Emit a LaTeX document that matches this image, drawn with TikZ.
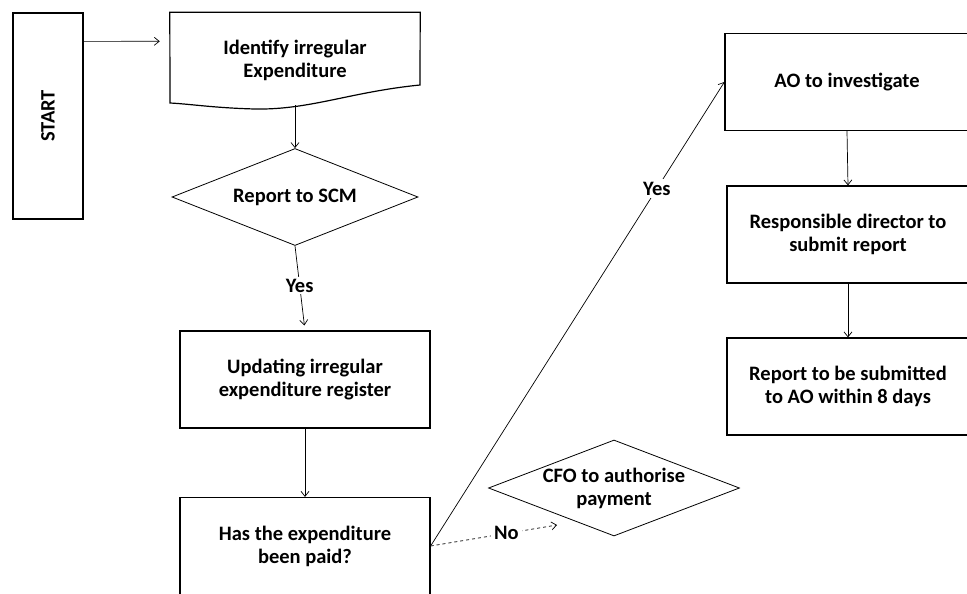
\documentclass[tikz,border=0pt]{standalone}
\usepackage{fontspec}
\setmainfont{Carlito}
\usetikzlibrary{shapes.geometric,arrows.meta}
\begin{document}
\begin{tikzpicture}[x=1pt,y=-1pt,every node/.style={font=\fontsize{20.5}{23}\selectfont\bfseries,align=center},
  stepbox/.style={draw,line width=1.2pt,minimum width=250pt,minimum height=97pt,inner sep=0pt},
  choice/.style={draw,shape=diamond,line width=0.8pt,inner sep=0pt},
  link/.style={line width=0.7pt,-{Straight Barb[length=5pt,width=8pt]}}]
\useasboundingbox (0,0) rectangle (967,594);
\clip (0,0) rectangle (967,594);
\node[draw,line width=1.2pt,minimum width=70pt,minimum height=206pt,inner sep=0pt] (start) at (48,116) {\rotatebox{90}{START}};
\node[minimum width=250pt,minimum height=95pt,inner sep=0pt] (ident) at (295,60) {Identify irregular\\Expenditure};
\draw[line width=1.2pt] (ident.north west) -- (ident.north east) -- (420,85) .. controls (350,92) and (310,110) .. (255,109) .. controls (215,108) and (190,104) .. (170,103) -- cycle;
\coordinate (identb) at (295,105);
\node[choice,minimum width=246pt,minimum height=97pt] (scm) at (295,197) {};
\node (scmt) at (scm) {Report to SCM};
\node[stepbox] (upd) at (305,379.5) {Updating irregular\\expenditure register};
\node[stepbox] (paid) at (305,546) {Has the expenditure\\been paid?};
\node[choice,minimum width=251pt,minimum height=96pt] (cfo) at (614,488) {};
\node (cfot) at (cfo) {CFO to authorise\\payment};
\coordinate (noend) at (557,525);
\node[stepbox,minimum width=244pt] (ao) at (847,82) {AO to investigate};
\node[stepbox,minimum width=242pt] (resp) at (848,234.5) {Responsible director to\\submit report};
\node[stepbox,minimum width=242pt] (rep) at (848,386.5) {Report to be submitted\\to AO within 8 days};
\draw[link] ([yshift=-29pt]start.north east) -- ([yshift=-29pt,xshift=-10pt]ident.north west);
\draw[link] (identb) -- (scm.north);
\draw[link,shorten >=5pt] (scm.south) -- node[pos=0.47,fill=white,inner sep=2pt] {Yes} (upd.north);
\draw[link] (upd.south) -- (paid.north);
\draw[link] (paid.east) -- node[pos=0.77,fill=white,inner sep=3pt] {Yes} (ao.west);
\draw[link,dashed] (paid.east) -- node[pos=0.6,fill=white,inner sep=3pt] {No} (noend);
\draw[link] (ao.south) -- (resp.north);
\draw[link] (resp.south) -- (rep.north);
\end{tikzpicture}
\end{document}
